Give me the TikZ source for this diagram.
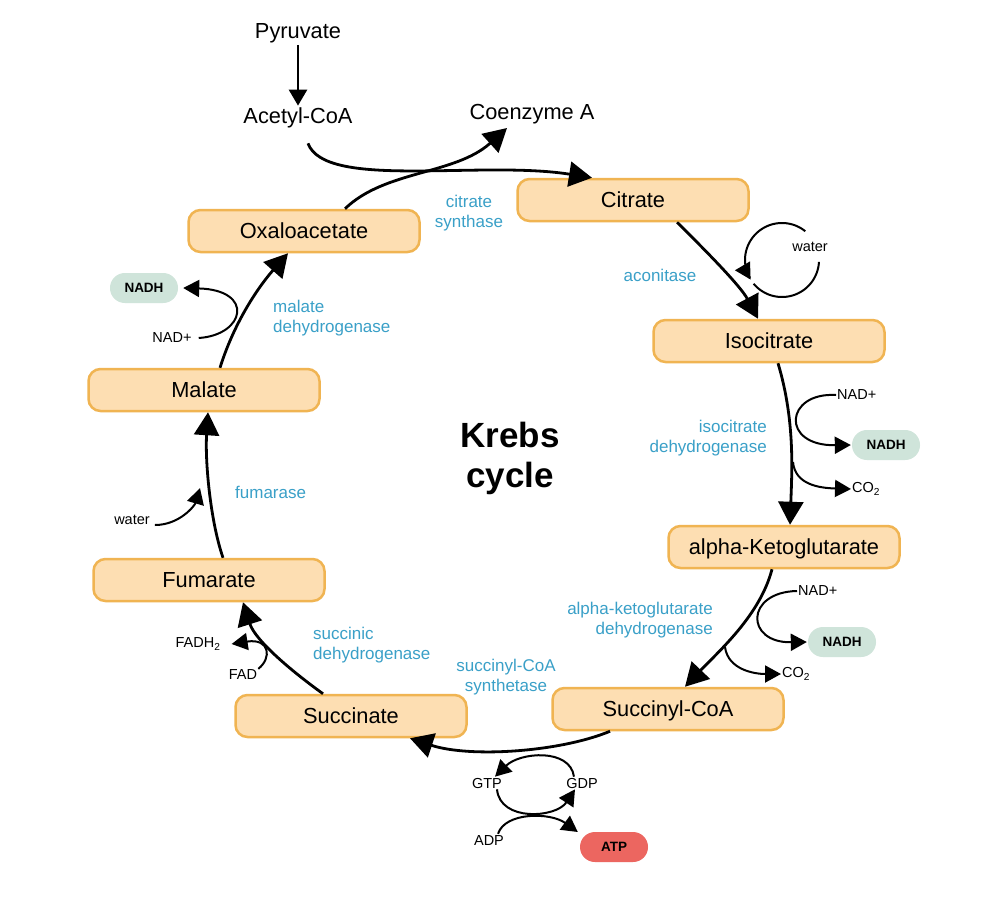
\documentclass[tikz,border=0pt]{standalone}
\usepackage{fontspec}
\setmainfont{Liberation Sans}
\usetikzlibrary{arrows.meta,calc}
\definecolor{boxfill}{RGB}{253,222,178}
\definecolor{boxdraw}{RGB}{240,180,82}
\definecolor{enz}{RGB}{58,160,200}
\definecolor{nadhc}{RGB}{207,228,218}
\definecolor{atpc}{RGB}{236,102,96}
\begin{document}
\begin{tikzpicture}[x=1pt,y=-1pt,
  mol/.style={draw=boxdraw, fill=boxfill, line width=2.5pt, rounded corners=12pt,
    minimum width=231pt, minimum height=42pt, inner sep=0pt,
    text height=15.5pt, text depth=0pt, font=\fontsize{21.8}{26}\selectfont},
  big/.style={inner sep=2pt, font=\fontsize{21.8}{26}\selectfont},
  enzl/.style={text=enz, inner sep=1pt, font=\fontsize{17}{20}\selectfont},
  small/.style={inner sep=1pt, font=\fontsize{14.5}{17}\selectfont},
  pill/.style={rounded corners=14.9pt, minimum width=68pt, minimum height=30pt,
    inner sep=0pt, font=\bfseries\fontsize{13.5}{16}\selectfont},
  main/.style={line width=2.8pt, -{Triangle[length=23pt,width=25pt]}},
  feed/.style={line width=2.6pt, -{Triangle[length=16pt,width=18pt]}},
  sidearr/.style={line width=2pt, -{Triangle[length=16pt,width=17pt]}},
  sideline/.style={line width=2pt}
]
\fill[white] (0,0) rectangle (1000,907);
\useasboundingbox (0,0) rectangle (1000,907);

% molecules
\node[mol] (cit) at (633,200) {Citrate};
\node[mol] (oxa) at (304,231) {Oxaloacetate};
\node[mol] (iso) at (769,341) {Isocitrate};
\node[mol] (akg) at (784,547) {alpha-Ketoglutarate};
\node[mol] (sca) at (668,709) {Succinyl-CoA};
\node[mol] (suc) at (351,716) {Succinate};
\node[mol] (fum) at (209,580) {Fumarate};
\node[mol] (mal) at (204,390) {Malate};

% top texts
\node[big] (pyr) at (298,33) {Pyruvate};
\node[big] (acc) at (298,118) {Acetyl-CoA};
\node[big] (coa) at (532,114) {Coenzyme A};
\coordinate (coaend) at (507,128);

% centre
\node[align=center, font=\bfseries\fontsize{35}{40}\selectfont] (krebs) at (510,458) {Krebs\\cycle};

% enzymes
\node[enzl, align=center] (e1) at (469,213) {citrate\\synthase};
\node[enzl] (e2) at (660,275) {aconitase};
\node[enzl, align=right, anchor=east] (e3) at (768,438) {isocitrate\\dehydrogenase};
\node[enzl, align=right, anchor=east] (e4) at (714,620) {alpha-ketoglutarate\\dehydrogenase};
\node[enzl, align=center] (e5) at (506,677) {succinyl-CoA\\synthetase};
\node[enzl, align=left, anchor=west] (e6) at (312,645) {succinic\\dehydrogenase};
\node[enzl, anchor=west] (e7) at (234,492) {fumarase};
\node[enzl, align=left, anchor=west] (e8) at (272,318) {malate\\dehydrogenase};

% small labels
\node[small] (w1) at (810,247) {water};
\node[small, anchor=west] (nad1) at (836,395) {NAD+};
\node[pill, fill=nadhc] (nadh1) at (886,445) {NADH};
\node[small, anchor=west] (co21) at (851,489) {CO\textsubscript{2}};
\node[small, anchor=west] (nad2) at (797,591) {NAD+};
\node[pill, fill=nadhc] (nadh2) at (842,642) {NADH};
\node[small, anchor=west] (co22) at (781,674) {CO\textsubscript{2}};
\node[small] (gtp) at (487,783) {GTP};
\node[small] (gdp) at (582,783) {GDP};
\node[small] (adp) at (489,840) {ADP};
\node[pill, fill=atpc] (atp) at (614,847) {ATP};
\node[small] (fadh) at (198,644) {FADH\textsubscript{2}};
\node[small] (fad) at (243,675) {FAD};
\node[small] (w2) at (132,520) {water};
\node[small] (nad3) at (172,338) {NAD+};
\node[pill, fill=nadhc] (nadh3) at (144,288) {NADH};

% main cycle arrows
\draw[feed] (pyr) -- (acc);
\draw[main] ([xshift=41pt]oxa.north) .. controls (385,170) and (455,175) .. (coaend);
\draw[main] ([shift={(10,13)}]acc.south) .. controls (325,190) and (480,160) .. ([xshift=-41pt]cit.north);
\draw[main] ([xshift=44pt]cit.south) .. controls (700,245) and (740,285) .. ([xshift=-11pt]iso.north);
\draw[main] ([xshift=9pt]iso.south) .. controls (795,420) and (792,470) .. ([xshift=6pt]akg.north);
\draw[main] ([xshift=-12pt]akg.south) .. controls (760,615) and (720,650) .. ([xshift=17pt]sca.north);
\draw[main] ([xshift=-58pt]sca.south) .. controls (560,752) and (470,758) .. ([xshift=59pt]suc.south);
\draw[main] ([xshift=-28pt]suc.north) .. controls (290,670) and (255,640) .. ([xshift=34pt]fum.south);
\draw[main] ([xshift=14pt]fum.north) .. controls (210,520) and (205,460) .. ([xshift=4pt]mal.south);
\draw[main] ([xshift=16pt]mal.north) .. controls (235,320) and (260,285) .. ([xshift=-16pt]oxa.south);

% water loop at aconitase
\draw[sidearr] plot[domain=51:212, samples=60] ({782+37*cos(\x)},{260-37*sin(\x)});
\draw[sideline] plot[domain=-3:-140, samples=60] ({782+37*cos(\x)},{260-37*sin(\x)});

% isocitrate dehydrogenase
\coordinate (b1) at (793,462);
\draw[sidearr] (nad1.west) .. controls (785,392) and (780,446) .. ([xshift=-1pt]nadh1.west);
\draw[sidearr] (b1) .. controls (795,485) and (820,488) .. (co21.west);

% alpha-ketoglutarate dehydrogenase
\coordinate (b2) at (725,647);
\draw[sidearr] (nad2.west) .. controls (745,592) and (745,643) .. ([xshift=-1pt]nadh2.west);
\draw[sidearr] (b2) .. controls (728,670) and (755,674) .. (co22.west);

% succinyl-CoA synthetase
\draw[sidearr] ([xshift=-8pt]gdp.north) .. controls (570,748) and (520,752) .. ([xshift=8pt]gtp.north);
\draw[sidearr] ([xshift=10pt]gtp.south) .. controls (500,822) and (556,818) .. ([xshift=-7pt]gdp.south);
\draw[sidearr] ([xshift=9pt]adp.north) .. controls (505,812) and (550,812) .. ([shift={(-2,-15)}]atp.west);

% succinic dehydrogenase
\draw[sidearr] (fad.north east) .. controls (272,658) and (270,638) .. ([xshift=10pt]fadh.east);

% fumarase
\coordinate (wend) at (200,488);
\draw[sidearr] ([shift={(4,5)}]w2.east) .. controls (180,525) and (195,505) .. (wend);

% malate dehydrogenase
\draw[sidearr] ([xshift=6pt]nad3.east) .. controls (245,335) and (255,290) .. ([xshift=5pt]nadh3.east);
\end{tikzpicture}
\end{document}
